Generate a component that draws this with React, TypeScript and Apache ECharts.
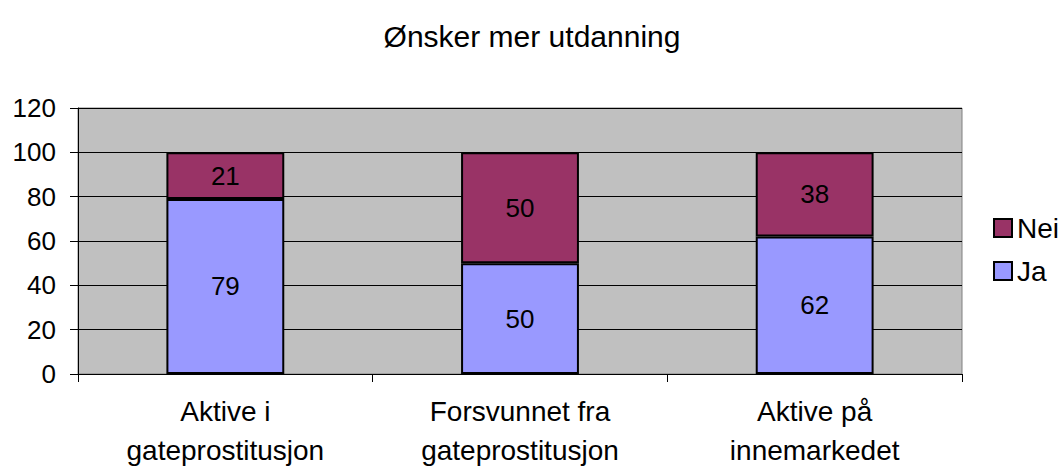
import React, { useEffect, useRef } from "react";
import * as echarts from "echarts";

const categories = ["Aktive i\ngateprostitusjon", "Forsvunnet fra\ngateprostitusjon", "Aktive på\ninnemarkedet"];
const jaValues = [79, 50, 62];
const neiValues = [21, 50, 38];
const yTicks = { min: 0, max: 120, interval: 20 };
const titleText = "Ønsker mer utdanning";

export default function App() {
  const ref = useRef<HTMLDivElement>(null);
  useEffect(() => {
    if (!ref.current) return;
    const chart = echarts.init(ref.current, null, { renderer: "svg" });
    const font = "Arial, 'Liberation Sans', Helvetica, sans-serif";
    chart.setOption({
      animation: false,
      backgroundColor: "#ffffff",
      textStyle: { fontFamily: font, color: "#000" },
      title: {
        text: titleText,
        left: "center",
        top: 16,
        textStyle: { fontFamily: font, fontSize: 30, fontWeight: "normal", color: "#000" },
      },
      legend: {
        orient: "vertical",
        left: 988,
        top: 209,
        data: ["Nei", "Ja"],
        icon: "rect",
        itemWidth: 18,
        itemHeight: 18,
        itemGap: 15,
        textStyle: { fontFamily: font, fontSize: 28, color: "#000" },
        itemStyle: { borderColor: "#000", borderWidth: 2 },
      },
      grid: {
        left: 78,
        right: 102,
        top: 108,
        bottom: 93,
        show: true,
        backgroundColor: "#C0C0C0",
        borderColor: "#808080",
        borderWidth: 1,
        containLabel: false,
      },
      xAxis: {
        type: "category",
        data: categories,
        axisLine: { lineStyle: { color: "#000", width: 1 } },
        axisTick: { show: true, alignWithLabel: false, length: 8, lineStyle: { color: "#000" } },
        axisLabel: {
          fontFamily: font,
          fontSize: 28,
          color: "#000",
          margin: 18,
          lineHeight: 39,
          interval: 0,
        },
        splitLine: { show: false },
      },
      yAxis: {
        type: "value",
        min: yTicks.min,
        max: yTicks.max,
        interval: yTicks.interval,
        axisLine: { show: true, lineStyle: { color: "#000", width: 1 } },
        axisTick: { show: true, length: 8, lineStyle: { color: "#000" } },
        axisLabel: { fontFamily: font, fontSize: 26, color: "#000", margin: 22 },
        splitLine: { show: true, lineStyle: { color: "#000", width: 1 } },
      },
      series: [
        {
          name: "Ja",
          type: "bar",
          stack: "total",
          data: jaValues,
          barWidth: "40%",
          itemStyle: { color: "#9999FF", borderColor: "#000", borderWidth: 2 },
          label: { show: true, position: "inside", fontFamily: font, fontSize: 26, color: "#000" },
        },
        {
          name: "Nei",
          type: "bar",
          stack: "total",
          data: neiValues,
          barWidth: "40%",
          itemStyle: { color: "#993366", borderColor: "#000", borderWidth: 2 },
          label: { show: true, position: "inside", fontFamily: font, fontSize: 26, color: "#000" },
        },
      ],
    });
    return () => chart.dispose();
  }, []);
  return <div ref={ref} style={{ width: 1064, height: 470, position: "absolute", left: 0, top: 0 }} />;
}
